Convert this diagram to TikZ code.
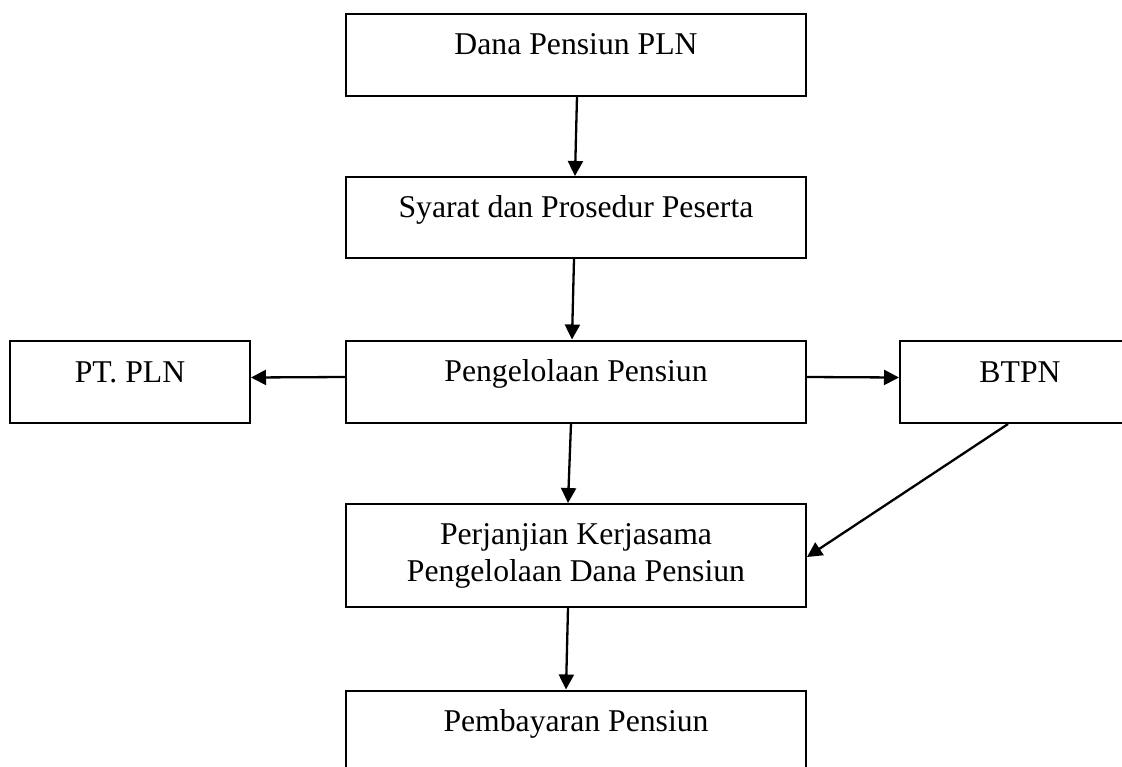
\documentclass[tikz,border=0pt]{standalone}
\usepackage{fontspec}
\setmainfont{Liberation Serif}
\usetikzlibrary{arrows.meta}
\begin{document}
\begin{tikzpicture}[x=1pt,y=-1pt,
  box/.style={draw, line width=2pt, rectangle, inner sep=0pt,
    minimum width=460pt, minimum height=82pt,
    font=\fontsize{31.7}{37}\selectfont, text height=20pt, text depth=20pt},
  sidebox/.style={box, minimum width=240pt},
  twobox/.style={draw, line width=2pt, rectangle, inner sep=0pt,
    minimum width=460pt, minimum height=103pt, align=center,
    font=\fontsize{31.7}{37}\selectfont},
  arr/.style={line width=2.3pt, -{Triangle[length=15pt,width=15pt]}}]
\clip (0,0) rectangle (1122,766);
\node[box] (b1) at (576,54.5) {Dana Pensiun PLN};
\node[box, minimum height=81pt] (b2) at (576,217.5) {Syarat dan Prosedur Peserta};
\node[box] (b3) at (576,381.5) {Pengelolaan Pensiun};
\node[sidebox] (pt) at (130,382) {PT. PLN};
\node[sidebox] (btpn) at (1020,382) {BTPN};
\node[twobox] (b4) at (576,555.5) {Perjanjian Kerjasama\\Pengelolaan Dana Pensiun};
\node[box] (b5) at (576,731.5) {Pembayaran Pensiun};
\draw[arr] ([xshift=1pt]b1.south) -- ([xshift=-1pt]b2.north);
\draw[arr] ([xshift=-2pt]b2.south) -- ([xshift=-4pt]b3.north);
\draw[arr] ([xshift=-5pt]b3.south) -- ([xshift=-8pt]b4.north);
\draw[arr] ([xshift=-8pt]b4.south) -- ([xshift=-10pt]b5.north);
\draw[arr] ([yshift=4.5pt]b3.west) -- ([yshift=4.5pt]pt.east);
\draw[arr] ([yshift=4.5pt]b3.east) -- ([yshift=4.5pt]btpn.west);
\draw[arr] ([xshift=-12pt]btpn.south) -- ([yshift=-1.5pt]b4.east);
\end{tikzpicture}
\end{document}
